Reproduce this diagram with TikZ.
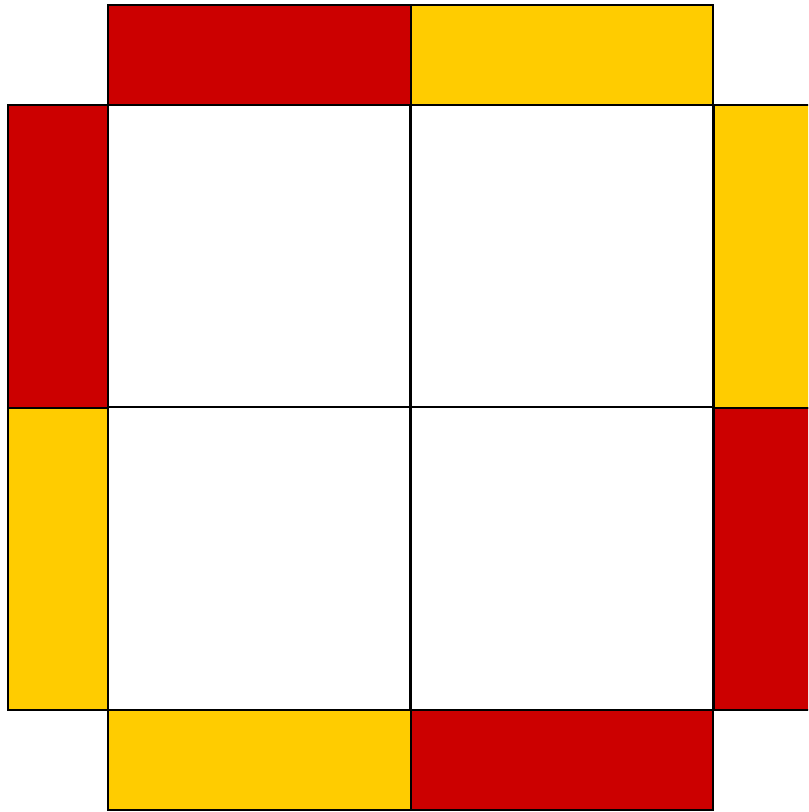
\documentclass[tikz,border=0pt]{standalone}
\definecolor{stripred}{HTML}{CC0000}
\definecolor{stripyellow}{HTML}{FFCC00}
\begin{document}
\begin{tikzpicture}[
    cell/.style={draw=black, line width=0.6pt, fill=white},
    redstrip/.style={draw=black, line width=0.6pt, fill=stripred},
    yellowstrip/.style={draw=black, line width=0.6pt, fill=stripyellow}
]
    \useasboundingbox (0,0) rectangle (8.08,8.12);
    \clip (0,0) rectangle (8.08,8.12);
    % top strips
    \draw[redstrip] (1.08,7.07) rectangle (4.11,8.07);
    \draw[yellowstrip] (4.11,7.07) rectangle (7.13,8.07);
    % left strips
    \draw[redstrip] (0.08,4.04) rectangle (1.08,7.07);
    \draw[yellowstrip] (0.08,1.02) rectangle (1.08,4.04);
    % right strips
    \draw[yellowstrip] (7.13,4.04) rectangle (8.20,7.07);
    \draw[redstrip] (7.13,1.02) rectangle (8.20,4.04);
    % bottom strips
    \draw[yellowstrip] (1.08,0.02) rectangle (4.11,1.02);
    \draw[redstrip] (4.11,0.02) rectangle (7.13,1.02);
    % white cells
    \foreach \x/\y in {1.08/4.04, 4.11/4.04, 1.08/1.02, 4.11/1.02}
        \draw[cell] (\x,\y) rectangle ++(3.025,3.03);
\end{tikzpicture}
\end{document}
